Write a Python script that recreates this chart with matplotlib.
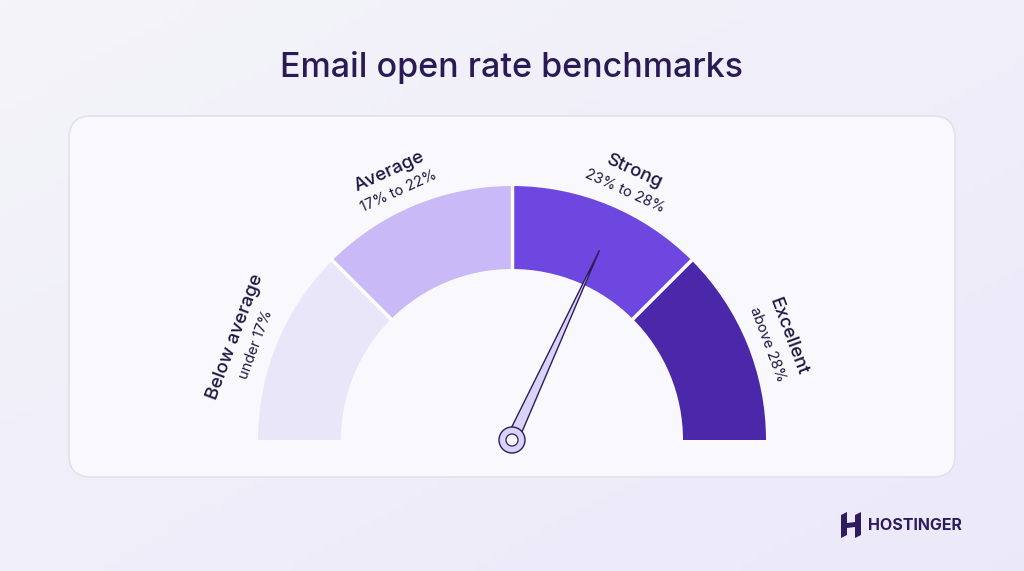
import numpy as np
import matplotlib
matplotlib.use("Agg")
import matplotlib.pyplot as plt
from matplotlib.patches import Wedge, FancyBboxPatch, Circle, Polygon

# data
title = "Email open rate benchmarks"
seg_names = ["Below average", "Average", "Strong", "Excellent"]
seg_ranges = ["under 17%", "17% to 22%", "23% to 28%", "above 28%"]
seg_colors = ["#E9E6F9", "#C9B9F7", "#6E47E0", "#4B28AA"]
needle_value = 2.55   # position on the 0..4 segment scale

W, H = 1024, 571
fig = plt.figure(figsize=(W / 100, H / 100), dpi=100)
ax = fig.add_axes([0, 0, 1, 1])
ax.set_xlim(0, W)
ax.set_ylim(0, H)
ax.axis("off")

# background gradient
gx = np.linspace(0, 1, 256)
grad = np.outer(np.linspace(0, 1, 64), np.ones(256)) * 0.5 + gx * 0.5
c1 = np.array([0.957, 0.957, 0.980])
c2 = np.array([0.925, 0.914, 0.980])
img = c1 + (c2 - c1) * grad[..., None]
ax.imshow(img, extent=[0, W, 0, H], aspect="auto", zorder=0)

# panel
panel = FancyBboxPatch((69, 571 - 477), 886, 361, boxstyle="round,pad=0,rounding_size=22",
                       fc="#F9F9FD", ec="#E2E0EC", lw=1.2, zorder=1)
ax.add_patch(panel)

ax.text(512, 571 - 68, title, ha="center", va="center", fontsize=24.5,
        color="#2A1A55", family="Inter", fontweight="medium")

# gauge
cx, cy = 512, 571 - 440
R, r = 254, 171
n = len(seg_names)
step = 180 / n
for i in range(n):
    a1 = 180 - (i + 1) * step
    a2 = 180 - i * step
    ax.add_patch(Wedge((cx, cy), R, a1, a2, width=R - r, fc=seg_colors[i], ec="none", zorder=2))
for i in range(1, n):
    a = np.radians(180 - i * step)
    ax.plot([cx + (r - 2) * np.cos(a), cx + (R + 2) * np.cos(a)],
            [cy + (r - 2) * np.sin(a), cy + (R + 2) * np.sin(a)],
            color="white", lw=2.5, zorder=3, solid_capstyle="butt")

# labels (pushed slightly away from the vertical)
for i in range(n):
    mid = 180 - (i + 0.5) * step
    mid = mid + (2 if mid > 90 else -2)
    a = np.radians(mid)
    rot = mid - 90
    ax.text(cx + 295 * np.cos(a), cy + 295 * np.sin(a), seg_names[i], rotation=rot,
            rotation_mode="anchor", ha="center", va="center", fontsize=13.5,
            color="#1F1640", family="Inter", fontweight="medium")
    ax.text(cx + 273 * np.cos(a), cy + 273 * np.sin(a), seg_ranges[i], rotation=rot,
            rotation_mode="anchor", ha="center", va="center", fontsize=10.5,
            color="#1F1640", family="Inter")

# needle
na = np.radians(180 - needle_value * step)
L = 209
perp = na + np.pi / 2
tip = (cx + L * np.cos(na), cy + L * np.sin(na))
bw = 6
b1 = (cx + bw * np.cos(perp), cy + bw * np.sin(perp))
b2 = (cx - bw * np.cos(perp), cy - bw * np.sin(perp))
ax.add_patch(Polygon([b1, tip, b2], closed=True, fc="#DAD3F8", ec="#2D1B5E", lw=1.0, zorder=5))
ax.add_patch(Circle((cx, cy), 13, fc="#DAD3F8", ec="#2D1B5E", lw=1.0, zorder=6))
ax.add_patch(Circle((cx, cy), 6, fc="#F9F9FD", ec="#2D1B5E", lw=0.9, zorder=7))

# logo
lx, ly = 841, 571 - 538
ax.add_patch(Polygon([(lx, ly), (lx + 6, ly + 3), (lx + 6, ly + 26), (lx, ly + 23)],
                     fc="#2D1B5E", ec="none", zorder=5))
ax.add_patch(Polygon([(lx + 14, ly), (lx + 20, ly + 3), (lx + 20, ly + 26), (lx + 14, ly + 23)],
                     fc="#2D1B5E", ec="none", zorder=5))
ax.add_patch(Polygon([(lx + 6, ly + 10), (lx + 14, ly + 11), (lx + 14, ly + 16), (lx + 6, ly + 15)],
                     fc="#2D1B5E", ec="none", zorder=5))
ax.text(868, 571 - 525, "HOSTINGER", ha="left", va="center", fontsize=11.5,
        color="#2D1B5E", family="Inter", fontweight="bold")

fig.savefig("out.png", dpi=100)
